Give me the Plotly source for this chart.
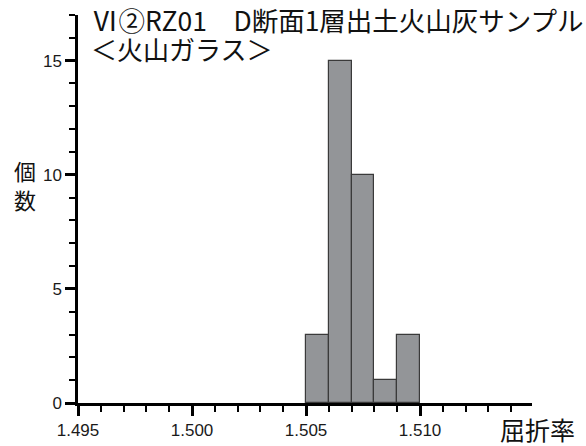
import plotly.graph_objects as go

# Data
bin_left = [1.505, 1.506, 1.507, 1.508, 1.509]
bin_width = 0.001
counts = [3, 15, 10, 1, 3]
x_tick_vals = [1.495, 1.500, 1.505, 1.510]
x_tick_text = ["1.495", "1.500", "1.505", "1.510"]
y_tick_vals = [0, 5, 10, 15]

title_line1 = "Ⅵ②RZ01　D断面1層出土火山灰サンプル"
title_line2 = "＜火山ガラス＞"
y_label = "個<br>数"
x_label = "屈折率"

centers = [b + bin_width / 2 for b in bin_left]

JP = "Noto Sans CJK JP"
NUM = "Liberation Sans, Arial, sans-serif"

fig = go.Figure()
fig.add_trace(go.Bar(
    x=centers, y=counts, width=bin_width,
    marker=dict(color="#939598", line=dict(color="#3a3a3a", width=1.2)),
    hoverinfo="x+y",
))

W, H = 586, 446
ml, mr, mt, mb = 78, 54, 15, 43
pw = W - ml - mr
ph = H - mt - mb

def px(xp):
    return (xp - ml) / pw

def py(yp):
    return (H - mb - yp) / ph

fig.update_layout(
    width=W, height=H,
    margin=dict(l=ml, r=mr, t=mt, b=mb, pad=0, autoexpand=False),
    paper_bgcolor="white", plot_bgcolor="white",
    showlegend=False,
    bargap=0,
    xaxis=dict(
        range=[1.495, 1.51491],
        tickvals=x_tick_vals, ticktext=x_tick_text,
        showgrid=False, zeroline=False, automargin=False,
        showline=True, linecolor="black", linewidth=2.5,
        ticks="outside", ticklen=10, tickwidth=2.5, tickcolor="black",
        tickfont=dict(family=NUM, size=17, color="#1a1a1a"),
        minor=dict(dtick=0.001, tick0=1.495, ticks="outside", ticklen=6,
                   tickwidth=2, tickcolor="black", showgrid=False),
        fixedrange=True,
    ),
    yaxis=dict(
        range=[0, 17],
        tickvals=y_tick_vals,
        showgrid=False, zeroline=False, automargin=False,
        showline=True, linecolor="black", linewidth=2.5,
        ticks="outside", ticklen=10, tickwidth=2.5, tickcolor="black",
        tickfont=dict(family=NUM, size=17, color="#1a1a1a"),
        minor=dict(dtick=1, tick0=0, ticks="outside", ticklen=6,
                   tickwidth=2, tickcolor="black", showgrid=False),
        fixedrange=True,
    ),
    annotations=[
        dict(text=title_line1, xref="paper", yref="paper",
             x=px(90), y=py(20), xanchor="left", yanchor="middle",
             showarrow=False, font=dict(family=JP, size=26.5, color="#111")),
        dict(text=title_line2, xref="paper", yref="paper",
             x=px(89), y=py(48), xanchor="left", yanchor="middle",
             showarrow=False, font=dict(family=JP, size=26, color="#111")),
        dict(text=y_label, xref="paper", yref="paper",
             x=px(25), y=py(184), xanchor="center", yanchor="middle",
             showarrow=False, font=dict(family=JP, size=22, color="#111")),
        dict(text=x_label, xref="paper", yref="paper",
             x=px(537), y=py(429), xanchor="center", yanchor="middle",
             showarrow=False, font=dict(family=JP, size=25, color="#111")),
    ],
)

fig.write_html(
    "out.html",
    config={"displayModeBar": False},
    post_script="document.body.style.margin='0';document.body.style.overflow='hidden';",
)
